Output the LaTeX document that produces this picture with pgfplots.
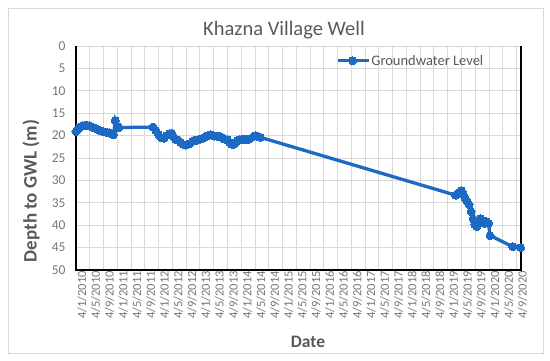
\documentclass[border=0pt]{standalone}
\usepackage{pgfplots}
\pgfplotsset{compat=1.18}
\usepackage{fontspec}
\setmainfont{Carlito}
\definecolor{gwl}{RGB}{28,106,196}
\definecolor{gridc}{RGB}{217,217,217}
\definecolor{txt}{RGB}{89,89,89}
\definecolor{tick}{RGB}{118,118,118}
\begin{document}
\begin{tikzpicture}
\useasboundingbox (-76pt,-91pt) rectangle (474pt,270pt);
\draw[gridc, line width=0.8pt] (-68pt,-83pt) rectangle (467pt,262pt);
\begin{axis}[
  at={(0,0)}, anchor=south west,
  scale only axis, width=445pt, height=224pt,
  xmin=0, xmax=129.3, ymin=0, ymax=50,
  y dir=reverse,
  xtick={0,4,...,128},
  xticklabels={4/1/2010,4/5/2010,4/9/2010,4/1/2011,4/5/2011,4/9/2011,4/1/2012,4/5/2012,4/9/2012,4/1/2013,4/5/2013,4/9/2013,4/1/2014,4/5/2014,4/9/2014,4/1/2015,4/5/2015,4/9/2015,4/1/2016,4/5/2016,4/9/2016,4/1/2017,4/5/2017,4/9/2017,4/1/2018,4/5/2018,4/9/2018,4/1/2019,4/5/2019,4/9/2019,4/1/2020,4/5/2020,4/9/2020},
  ytick={0,5,...,50},
  major tick length=0pt,
  grid=major,
  major grid style={gridc, line width=0.9pt},
  axis line style={gridc},
  /pgf/number format/assume math mode=true,
  xticklabel style={rotate=90, anchor=east, font=\fontsize{12.5}{13}\selectfont, text=tick, inner sep=1pt, yshift=-6pt},
  yticklabel style={font=\fontsize{13.5}{14}\selectfont, text=tick, xshift=-7pt},
  legend style={at={(0.584,0.934)}, anchor=west, draw=none, fill=none, inner sep=0pt, font=\fontsize{14.5}{15}\selectfont, text=txt, nodes={inner xsep=1pt}},
  legend cell align=left,
  legend image code/.code={\draw[#1, mark repeat=2, mark phase=2] plot coordinates {(0pt,0pt) (15pt,0pt) (31pt,0pt)};},
  clip=false,
]
\addplot[gwl, line width=3.3pt, mark=*, mark size=4pt, mark options={fill=gwl, draw=gwl, line width=0pt}] coordinates {
(0,19.1) (0.3,18.8) (0.6,18.5) (1.0,18.2) (1.5,18.0) (2.0,17.8) (2.6,17.7) (3.2,17.7) (3.8,17.8) (4.4,18.0) (5.0,18.2) (5.6,18.4) (6.2,18.6) (6.8,18.8) (7.4,19.0) (8.0,19.1) (8.6,19.2) (9.2,19.3) (9.8,19.4) (10.4,19.6) (10.9,19.8)
(11.4,16.7) (12.0,18.0) (12.5,18.2) (22.4,18.1) (23.2,18.8) (24.0,19.8) (24.8,20.5) (25.5,20.6) (26.3,20.0) (27.2,19.6) (27.8,19.5) (28.4,20.3) (29.0,20.9) (29.6,21.0) (30.4,21.5) (31.0,21.9) (31.7,22.1) (32.3,22.0) (33.0,21.8) (33.8,21.3) (34.5,21.0) (35.2,21.0) (36.0,20.8) (36.7,20.6) (37.5,20.3) (38.3,20.0) (39.0,19.8) (39.6,19.9) (40.3,20.1) (41.0,20.1) (41.8,20.2) (42.5,20.5) (43.2,20.8) (44.0,20.9) (44.6,21.5) (45.2,21.9) (45.8,22.0) (46.4,21.6) (47.0,21.1) (47.6,20.9) (48.3,20.8) (49.0,20.9) (49.6,20.8) (50.3,20.8) (51.7,20.1) (52.3,20.0) (53.0,20.3) (53.6,20.4)
(110.3,33.3) (110.8,33.0) (111.5,32.6) (112.0,32.3) (112.5,33.2) (113.0,33.8) (113.6,34.6) (114.2,35.4) (114.8,37.0) (115.4,38.6) (115.9,39.8) (116.5,40.3) (117.0,39.3) (117.5,38.5) (118.1,39.0) (118.7,39.6) (119.3,39.2) (119.9,39.6) (120.3,42.3) (126.9,44.8) (129.2,45.0)
};
\addlegendentry{Groundwater Level}
\draw[black, line width=1.3pt] (axis cs:0,0) -- (axis cs:0,50) -- (axis cs:129.3,50) -- (axis cs:129.3,0);
\end{axis}
\node[text=txt, font=\fontsize{20.5}{21}\selectfont] at (208pt,240pt) {Khazna Village Well};
\node[text=txt, font=\bfseries\fontsize{19}{20}\selectfont, rotate=90] at (-45pt,79pt) {Depth to GWL (m)};
\node[text=txt, font=\bfseries\fontsize{17.5}{18}\selectfont] at (232pt,-72pt) {Date};
\end{tikzpicture}
\end{document}
